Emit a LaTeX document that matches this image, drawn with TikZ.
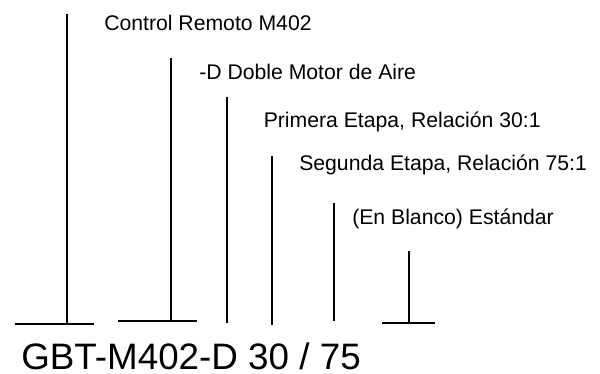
\documentclass[tikz,border=0pt]{standalone}
\usepackage{fontspec}
\setmainfont{Liberation Sans}

\begin{document}
\begin{tikzpicture}[x=0.75pt,y=0.75pt,yscale=-1,xscale=1,
	lbl/.style={anchor=base west,inner sep=0pt,font=\fontsize{15.9}{18}\selectfont},
	code/.style={anchor=base west,inner sep=0pt,font=\fontsize{27.6}{32}\selectfont},
	leader/.style={line width=1.5}]
	\useasboundingbox (0,0) rectangle (600,374);

	% Text Node
	\draw (104,30.5) node [lbl] (ctrl) {Control Remoto M402};
	% Text Node
	\draw (199,79.5) node [lbl] (motor) {-D Doble Motor de Aire};
	% Text Node
	\draw (263.5,127.5) node [lbl] (etapa1) {Primera Etapa, Relación 30:1};
	% Text Node
	\draw (299,171) node [lbl] (etapa2) {Segunda Etapa, Relación 75:1};
	% Text Node
	\draw (352,225) node [lbl] (blanco) {(En Blanco) Estándar};
	% Text Node
	\draw (21,369.5) node [code] (model) {GBT-M402-D 30 / 75};

	% Leader ends
	\coordinate (t1) at (66.5,14);    \coordinate (b1) at (66.5,324);
	\coordinate (t2) at (170.5,58);   \coordinate (b2) at (170.5,321);
	\coordinate (t3) at (227,97);     \coordinate (b3) at (227,323);
	\coordinate (t4) at (272,156);    \coordinate (b4) at (272,325);
	\coordinate (t5) at (333.5,203);  \coordinate (b5) at (333.5,321);
	\coordinate (t6) at (408.5,251);  \coordinate (b6) at (408.5,323);

	% Connection
	\draw [leader] (t1) -- (b1) ;
	\draw [leader] (15,324) -- (94,324) ;
	% Connection
	\draw [leader] (t2) -- (b2) ;
	\draw [leader] (118,321) -- (197,321) ;
	% Connection
	\draw [leader] (t3) -- (b3) ;
	% Connection
	\draw [leader] (t4) -- (b4) ;
	% Connection
	\draw [leader] (t5) -- (b5) ;
	% Connection
	\draw [leader] (t6) -- (b6) ;
	\draw [leader] (382,323) -- (435,323) ;

\end{tikzpicture}
\end{document}
